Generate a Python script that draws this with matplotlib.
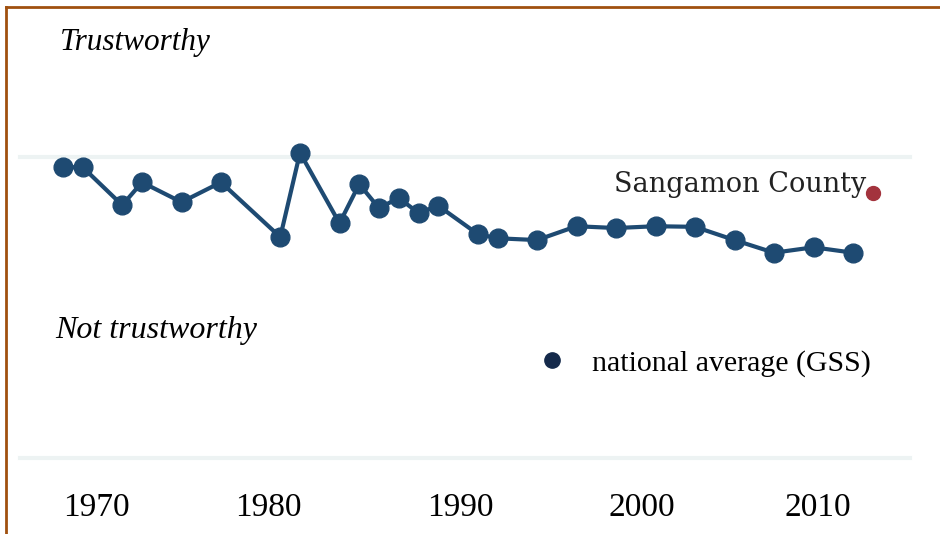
import matplotlib
matplotlib.use("Agg")
import matplotlib.pyplot as plt
from matplotlib.lines import Line2D

# national average (GSS): share saying most people can be trusted
years = [1972, 1973, 1975, 1976, 1978, 1980, 1983, 1984, 1986, 1987, 1988, 1989,
         1990, 1991, 1993, 1994, 1996, 1998, 2000, 2002, 2004, 2006, 2008, 2010, 2012]
trust = [0.483, 0.483, 0.420, 0.458, 0.425, 0.458, 0.367, 0.507, 0.390, 0.455, 0.415, 0.432,
         0.407, 0.419, 0.372, 0.365, 0.362, 0.385, 0.382, 0.385, 0.384, 0.362, 0.341, 0.350, 0.341]

# Sangamon County survey point
county_year = [2013]
county_trust = [0.440]

# reference lines: top = trustworthy side, bottom = not trustworthy side
ref_levels = [0.5, 0.0]

# x tick labels, placed where they sit in the original slide
tick_pos = [1973.7, 1982.4, 1992.1, 2001.3, 2010.2]
tick_labels = ["1970", "1980", "1990", "2000", "2010"]

W, H = 940, 534
navy = "#1e4a72"
red = "#a3333d"
brown = "#a0500f"
serif = ["Liberation Serif", "DejaVu Serif"]


def main():
    plt.rcParams['font.family'] = serif
    fig = plt.figure(figsize=(W / 100, H / 100), dpi=100)
    ax = fig.add_axes([0, 44 / H, 1, 490 / H])

    for lvl in ref_levels:
        ax.axhline(lvl, xmin=20 / W, xmax=910 / W, color="#edf3f3", lw=3, zorder=1)

    ax.plot(years, trust, color=navy, lw=3, marker="o", ms=13.5, zorder=3)
    ax.plot(county_year, county_trust, "o", color=red, ms=10, zorder=3)
    ax.annotate("Sangamon County", xy=(county_year[0], county_trust[0]),
                xytext=(-7, 1), textcoords="offset pixels", ha="right", va="baseline",
                fontsize=19.5, family=["DejaVu Serif"], color="#222222")

    # pixel -> data mapping: 1 year = 19.75 px, x(1972) = 63 px
    ax.set_xlim(1972 - 63 / 19.75, 1972 + (W - 63) / 19.75)
    ax.set_ylim(-32 / 602, 458 / 602)
    ax.set_xticks(tick_pos)
    ax.set_xticklabels(tick_labels, fontsize=24)
    ax.set_yticks([])
    ax.tick_params(axis="x", length=0, pad=2)
    for s in ax.spines.values():
        s.set_visible(False)

    fig.text(60 / W, 1 - 50 / H, "Trustworthy", fontsize=22.5, style="italic", va="baseline")
    fig.text(55 / W, 1 - 338 / H, "Not trustworthy", fontsize=23, style="italic", va="baseline")

    handle = Line2D([], [], marker="o", ls="none", color="#14294a", ms=11)
    ax.legend([handle], ["national average (GSS)"], loc="center left",
              bbox_to_anchor=(537 / W, 1 - 363 / H), bbox_transform=fig.transFigure,
              frameon=False, fontsize=21.5, handlelength=1, handletextpad=0.85,
              borderpad=0, borderaxespad=0)

    # slide frame: brown rule on top and left
    fig.add_artist(Line2D([6 / W, 1], [1 - 7 / H, 1 - 7 / H], color=brown, lw=2,
                          transform=fig.transFigure))
    fig.add_artist(Line2D([6 / W, 6 / W], [0, 1 - 7 / H], color=brown, lw=2,
                          transform=fig.transFigure))

    fig.savefig("out.png", dpi=100)


if __name__ == "__main__":
    main()
